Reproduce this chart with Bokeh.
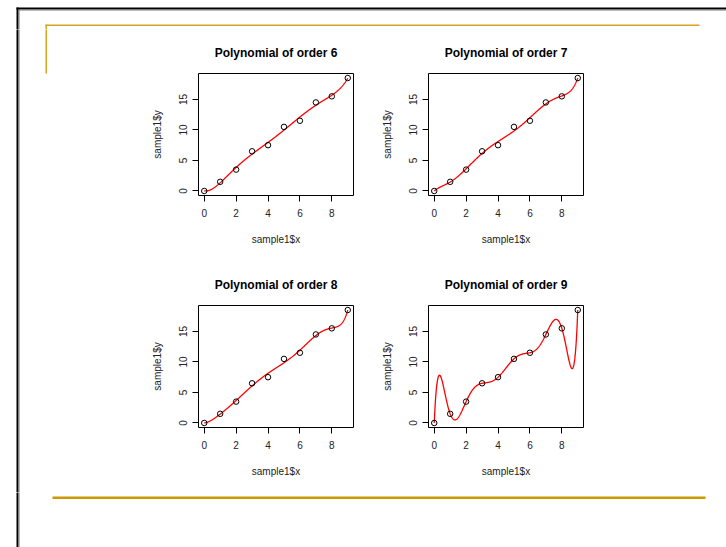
import numpy as np
from bokeh.plotting import figure
from bokeh.layouts import row, column
from bokeh.models import Range1d, FixedTicker
from bokeh.embed import file_html
from bokeh.resources import INLINE

# ---- data ----
x_vals = [0, 1, 2, 3, 4, 5, 6, 7, 8, 9]
y_vals = [0, 1.5, 3.5, 6.5, 7.5, 10.5, 11.5, 14.5, 15.5, 18.5]
orders = [6, 7, 8, 9]
x_ticks = [0, 2, 4, 6, 8]
y_ticks = [0, 5, 10, 15]
x_label = "sample1$x"
y_label = "sample1$y"

FONT = "Liberation Sans"
GOLD_TOP = "#D8A322"
GOLD_BOT = "#CC9900"


def deco_fig(x0, x1, y0, y1):
    p = figure(width=int(x1 - x0), height=int(y1 - y0),
               x_range=Range1d(x0, x1), y_range=Range1d(y1, y0),
               output_backend="svg", toolbar_location=None,
               x_axis_type=None, y_axis_type=None, min_border=0,
               outline_line_color=None, background_fill_color="white",
               border_fill_color="white", title=None)
    return p


def bar(p, l, r, t, b, color):
    p.quad(left=[l], right=[r], top=[t], bottom=[b], fill_color=color, line_color=None)


# picture coordinates (px)
TOP_Y0, TOP_Y1 = 0, 29
MID_Y1 = 492
BOT_Y1 = 547
LEFT_X1 = 140
RIGHT_X0 = 600
PAGE_X1 = 726
EXT = 3  # overshoot so bars join across figures

top = deco_fig(0, PAGE_X1, TOP_Y0, TOP_Y1)
bar(top, 16, PAGE_X1 + EXT, 7, 9, "black")
bar(top, 18, PAGE_X1 + EXT, 9, 10, "#777777")
bar(top, 16, 18, 7, TOP_Y1 + EXT, "black")
bar(top, 18, 19, 9, TOP_Y1 + EXT, "#777777")
bar(top, 45, 699, 24, 25.5, GOLD_TOP)
bar(top, 45, 46.5, 24, TOP_Y1 + EXT, GOLD_TOP)

left = deco_fig(0, LEFT_X1, TOP_Y1, MID_Y1)
bar(left, 16, 18, TOP_Y1 - EXT, MID_Y1 + EXT, "black")
bar(left, 18, 19, TOP_Y1 - EXT, MID_Y1 + EXT, "#777777")
bar(left, 45, 46.5, TOP_Y1 - EXT, 73, GOLD_TOP)

right = deco_fig(RIGHT_X0, PAGE_X1, TOP_Y1, MID_Y1)

bottom = deco_fig(0, PAGE_X1, MID_Y1, BOT_Y1)
bar(bottom, 16, 18, MID_Y1 - EXT, BOT_Y1 + EXT, "black")
bar(bottom, 18, 19, MID_Y1 - EXT, BOT_Y1 + EXT, "#777777")
bar(bottom, 52, 705, 496, 498.5, GOLD_BOT)


def panel(order, h, btop, bbot):
    p = figure(width=230, height=h,
               x_range=Range1d(-0.36, 9.36), y_range=Range1d(-0.74, 19.24),
               output_backend="svg", toolbar_location=None,
               min_border_left=58, min_border_right=17,
               min_border_top=btop, min_border_bottom=bbot,
               outline_line_color="black", outline_line_width=1,
               background_fill_color="white", border_fill_color="white")
    p.title.text = f"Polynomial of order {order}"
    p.title.align = "center"
    p.title.text_font = FONT
    p.title.text_font_size = "12px"
    p.title.text_font_style = "bold"
    p.title.text_color = "black"
    p.title.standoff = 27
    p.grid.visible = False

    for ax, ticks, lab in ((p.xaxis, x_ticks, x_label), (p.yaxis, y_ticks, y_label)):
        ax.ticker = FixedTicker(ticks=ticks)
        ax.axis_label = lab
        ax.axis_line_color = None
        ax.major_tick_out = 6
        ax.major_tick_in = 0
        ax.major_tick_line_color = "black"
        ax.minor_tick_line_color = None
        ax.major_label_text_font = FONT
        ax.major_label_text_font_size = "10px"
        ax.major_label_text_color = "#222222"
        ax.axis_label_text_font = FONT
        ax.axis_label_text_font_size = "10px"
        ax.axis_label_text_font_style = "normal"
        ax.axis_label_text_color = "#222222"
    p.xaxis.major_label_standoff = 7
    p.xaxis.axis_label_standoff = 14
    p.yaxis.major_label_standoff = 5
    p.yaxis.axis_label_standoff = 14
    p.yaxis.major_label_orientation = "vertical"

    fit = np.polynomial.Polynomial.fit(x_vals, y_vals, order)
    xs = np.linspace(min(x_vals), max(x_vals), 600)
    p.line(xs, fit(xs), line_color="red", line_width=1.3)
    p.scatter(x_vals, y_vals, marker="circle", size=5.5, fill_color=None,
              line_color="black", line_width=1)
    return p


p1 = panel(orders[0], 232, 44, 66)
p2 = panel(orders[1], 232, 44, 66)
p3 = panel(orders[2], 231, 44, 65)
p4 = panel(orders[3], 231, 44, 65)

grid = column(row(p1, p2), row(p3, p4))
layout = column(top, row(left, grid, right), bottom)

open("out.html", "w").write(file_html(layout, INLINE))
